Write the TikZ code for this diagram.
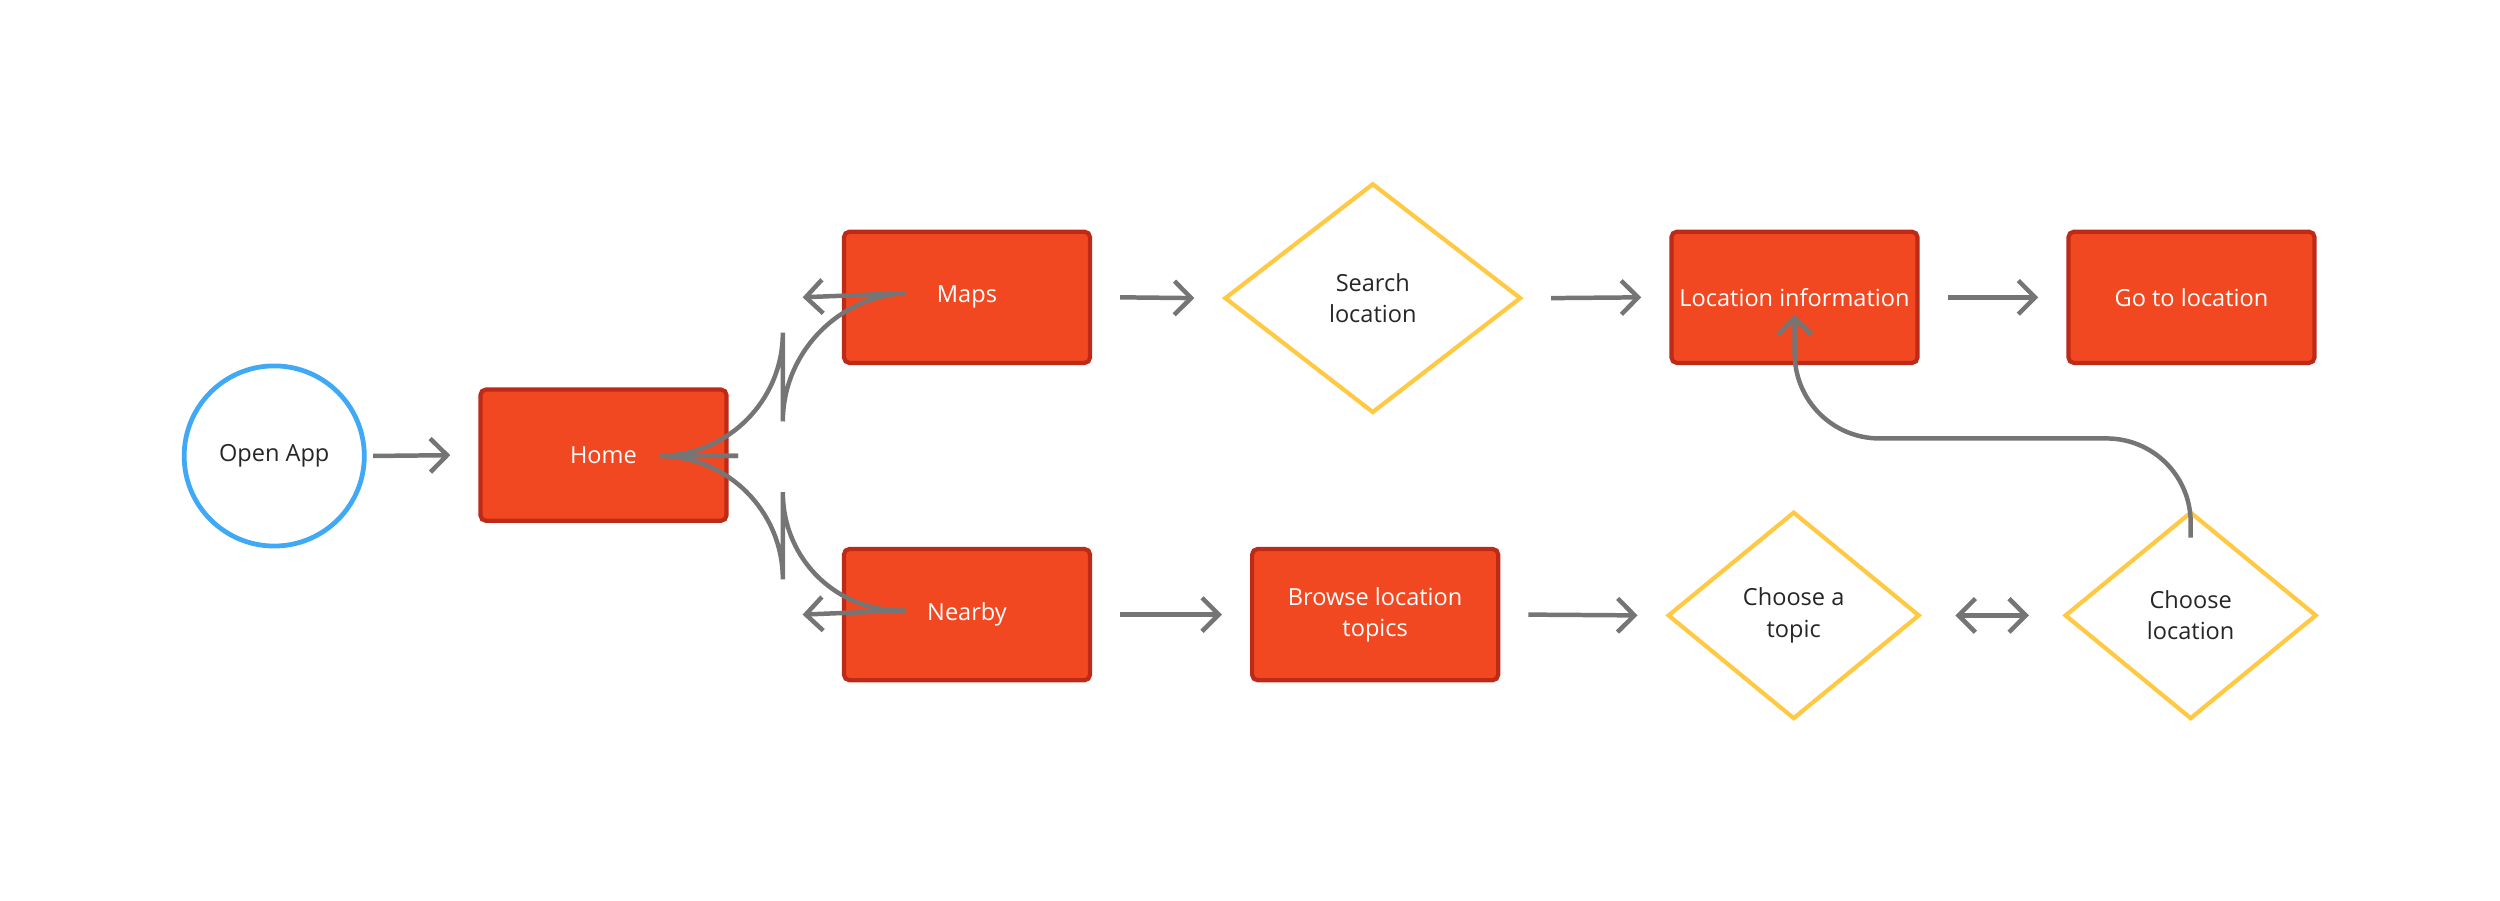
\documentclass[tikz,border=0pt]{standalone}
\usepackage{fontspec}
\setmainfont{Open Sans}
\usetikzlibrary{arrows.meta,shapes.geometric}
\definecolor{boxred}{HTML}{F24822}
\definecolor{boxedge}{HTML}{BD2A18}
\definecolor{dia}{HTML}{FFC943}
\definecolor{circ}{HTML}{3FA9F5}
\definecolor{arr}{HTML}{757575}
\begin{document}
\begin{tikzpicture}[x=0.01cm,y=-0.01cm,
  every node/.style={font=\fontsize{4.2}{5.6}\selectfont,align=center},
  box/.style={draw=boxedge,fill=boxred,text=white,line width=0.75pt,rounded corners=1pt,minimum width=157*0.01cm-0.75pt,minimum height=85*0.01cm-0.75pt,inner sep=0pt},
  dm/.style={draw=dia,line width=0.75pt,diamond,aspect=1.2,inner sep=0pt,text=black!85},
  con/.style={draw=arr,line width=0.8pt,-{Straight Barb[length=3pt,width=6pt,line width=0.8pt]}},
  dcon/.style={draw=arr,line width=0.8pt,{Straight Barb[length=3pt,width=6pt,line width=0.8pt]}-{Straight Barb[length=3pt,width=6pt,line width=0.8pt]}}]
\useasboundingbox (0,0) rectangle (1568,565);
\node[circle,draw=circ,line width=0.85pt,minimum size=113*0.01cm,text=black!85] (open) at (172,286) {Open App};
\node[box] (home) at (378.5,285.5) {Home};
\node[box] (maps) at (606.5,186.5) {Maps};
\node[box] (near) at (606.5,385.5) {Nearby};
\node[box] (info) at (1125.5,186.5) {Location information};
\node[box] (go) at (1374.5,186.5) {Go to location};
\node[box] (browse) at (862.5,385.5) {Browse location\\topics};
\node[dm,minimum width=186*0.01cm,minimum height=144*0.01cm] (search) at (861,187) {Search\\location};
\node[dm,minimum width=158*0.01cm,minimum height=130*0.01cm] (topic) at (1125,386) {Choose a\\topic};
\node[dm,minimum width=158*0.01cm,minimum height=130*0.01cm] (choose) at (1374,386) {Choose\\location};
\coordinate (hb) at (463,286);
\draw[con] (open) ++(62,0) -- ([xshift=-5]home.west);
\draw[con,rounded corners=22] (hb) -- (491,286) -- (491,187) -- ([xshift=-7]maps.west);
\draw[con,rounded corners=22] (hb) -- (491,286) -- (491,386) -- ([xshift=-7]near.west);
\draw[con] ([xshift=5]maps.east) -- ([xshift=-5]search.west);
\draw[con] ([xshift=5]search.east) -- ([xshift=-5]info.west);
\draw[con] ([xshift=5]info.east) -- ([xshift=-5]go.west);
\draw[con] ([xshift=5]near.east) -- ([xshift=-5]browse.west);
\draw[con] ([xshift=5]browse.east) -- ([xshift=-5]topic.west);
\draw[dcon] ([xshift=6]topic.east) -- ([xshift=-6]choose.west);
\draw[con,rounded corners=15] ([yshift=-5]choose.north) -- (1374,275) -- (1126,275) -- ([yshift=9]info.south);
\end{tikzpicture}
\end{document}
